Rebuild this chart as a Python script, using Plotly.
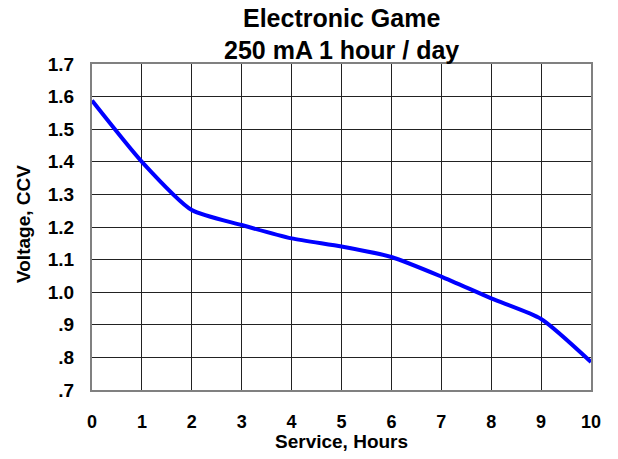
import plotly.graph_objects as go

hours = [0, 1, 2, 3, 4, 5, 6, 7, 8, 9, 10]
voltage = [1.588, 1.40, 1.252, 1.206, 1.165, 1.140, 1.108, 1.048, 0.981, 0.918, 0.786]

y_tickvals = [0.7, 0.8, 0.9, 1.0, 1.1, 1.2, 1.3, 1.4, 1.5, 1.6, 1.7]
y_ticktext = [".7", ".8", ".9", "1.0", "1.1", "1.2", "1.3", "1.4", "1.5", "1.6", "1.7"]
x_tickvals = list(range(0, 11))

title_lines = ["Electronic Game", "250 mA 1 hour / day"]
x_title = "Service, Hours"
y_title = "Voltage, CCV"

font_family = "Liberation Sans, Arial, sans-serif"

fig = go.Figure()
fig.add_trace(go.Scatter(
    x=hours, y=voltage, mode="lines",
    line=dict(color="#0000FF", width=4, shape="spline", smoothing=0.6),
    showlegend=False, hoverinfo="skip",
))

annotations = [
    dict(text=f"<b>{title_lines[0]}</b>", xref="paper", yref="paper", x=0.5, y=1.1426,
         xanchor="center", yanchor="middle", showarrow=False,
         font=dict(size=25, family=font_family, color="black")),
    dict(text=f"<b>{title_lines[1]}</b>", xref="paper", yref="paper", x=0.5, y=1.043,
         xanchor="center", yanchor="middle", showarrow=False,
         font=dict(size=25, family=font_family, color="black")),
    dict(text=f"<b>{x_title}</b>", xref="paper", yref="paper", x=0.5, y=-0.158,
         xanchor="center", yanchor="middle", showarrow=False,
         font=dict(size=19, family=font_family, color="black")),
    dict(text=f"<b>{y_title}</b>", xref="paper", yref="paper", x=-0.1373, y=0.5107,
         xanchor="center", yanchor="middle", showarrow=False, textangle=-90,
         font=dict(size=19, family=font_family, color="black")),
]

fig.update_layout(
    width=618, height=459,
    margin=dict(l=92, r=27, t=64, b=69, autoexpand=False),
    paper_bgcolor="white", plot_bgcolor="white",
    font=dict(family=font_family, color="black"),
    annotations=annotations,
)

fig.update_xaxes(
    range=[0, 10], tickvals=x_tickvals,
    ticktext=[f"<b>{v}</b>" for v in x_tickvals],
    tickfont=dict(size=18, family=font_family, color="black"),
    showgrid=True, gridcolor="#222222", gridwidth=1,
    zeroline=False, showline=True, linecolor="#808080", linewidth=2, mirror=True,
    ticks="", ticklabelstandoff=14, automargin=False,
)
fig.update_yaxes(
    range=[0.7, 1.7], tickvals=y_tickvals,
    ticktext=[f"<b>{t}</b>" for t in y_ticktext],
    tickfont=dict(size=19, family=font_family, color="black"),
    showgrid=True, gridcolor="#222222", gridwidth=1,
    zeroline=False, showline=True, linecolor="#808080", linewidth=2, mirror=True,
    ticks="", ticklabelstandoff=12, automargin=False,
)

fig.write_html("out.html", config={"displayModeBar": False},
               post_script="document.body.style.margin='0px';")
